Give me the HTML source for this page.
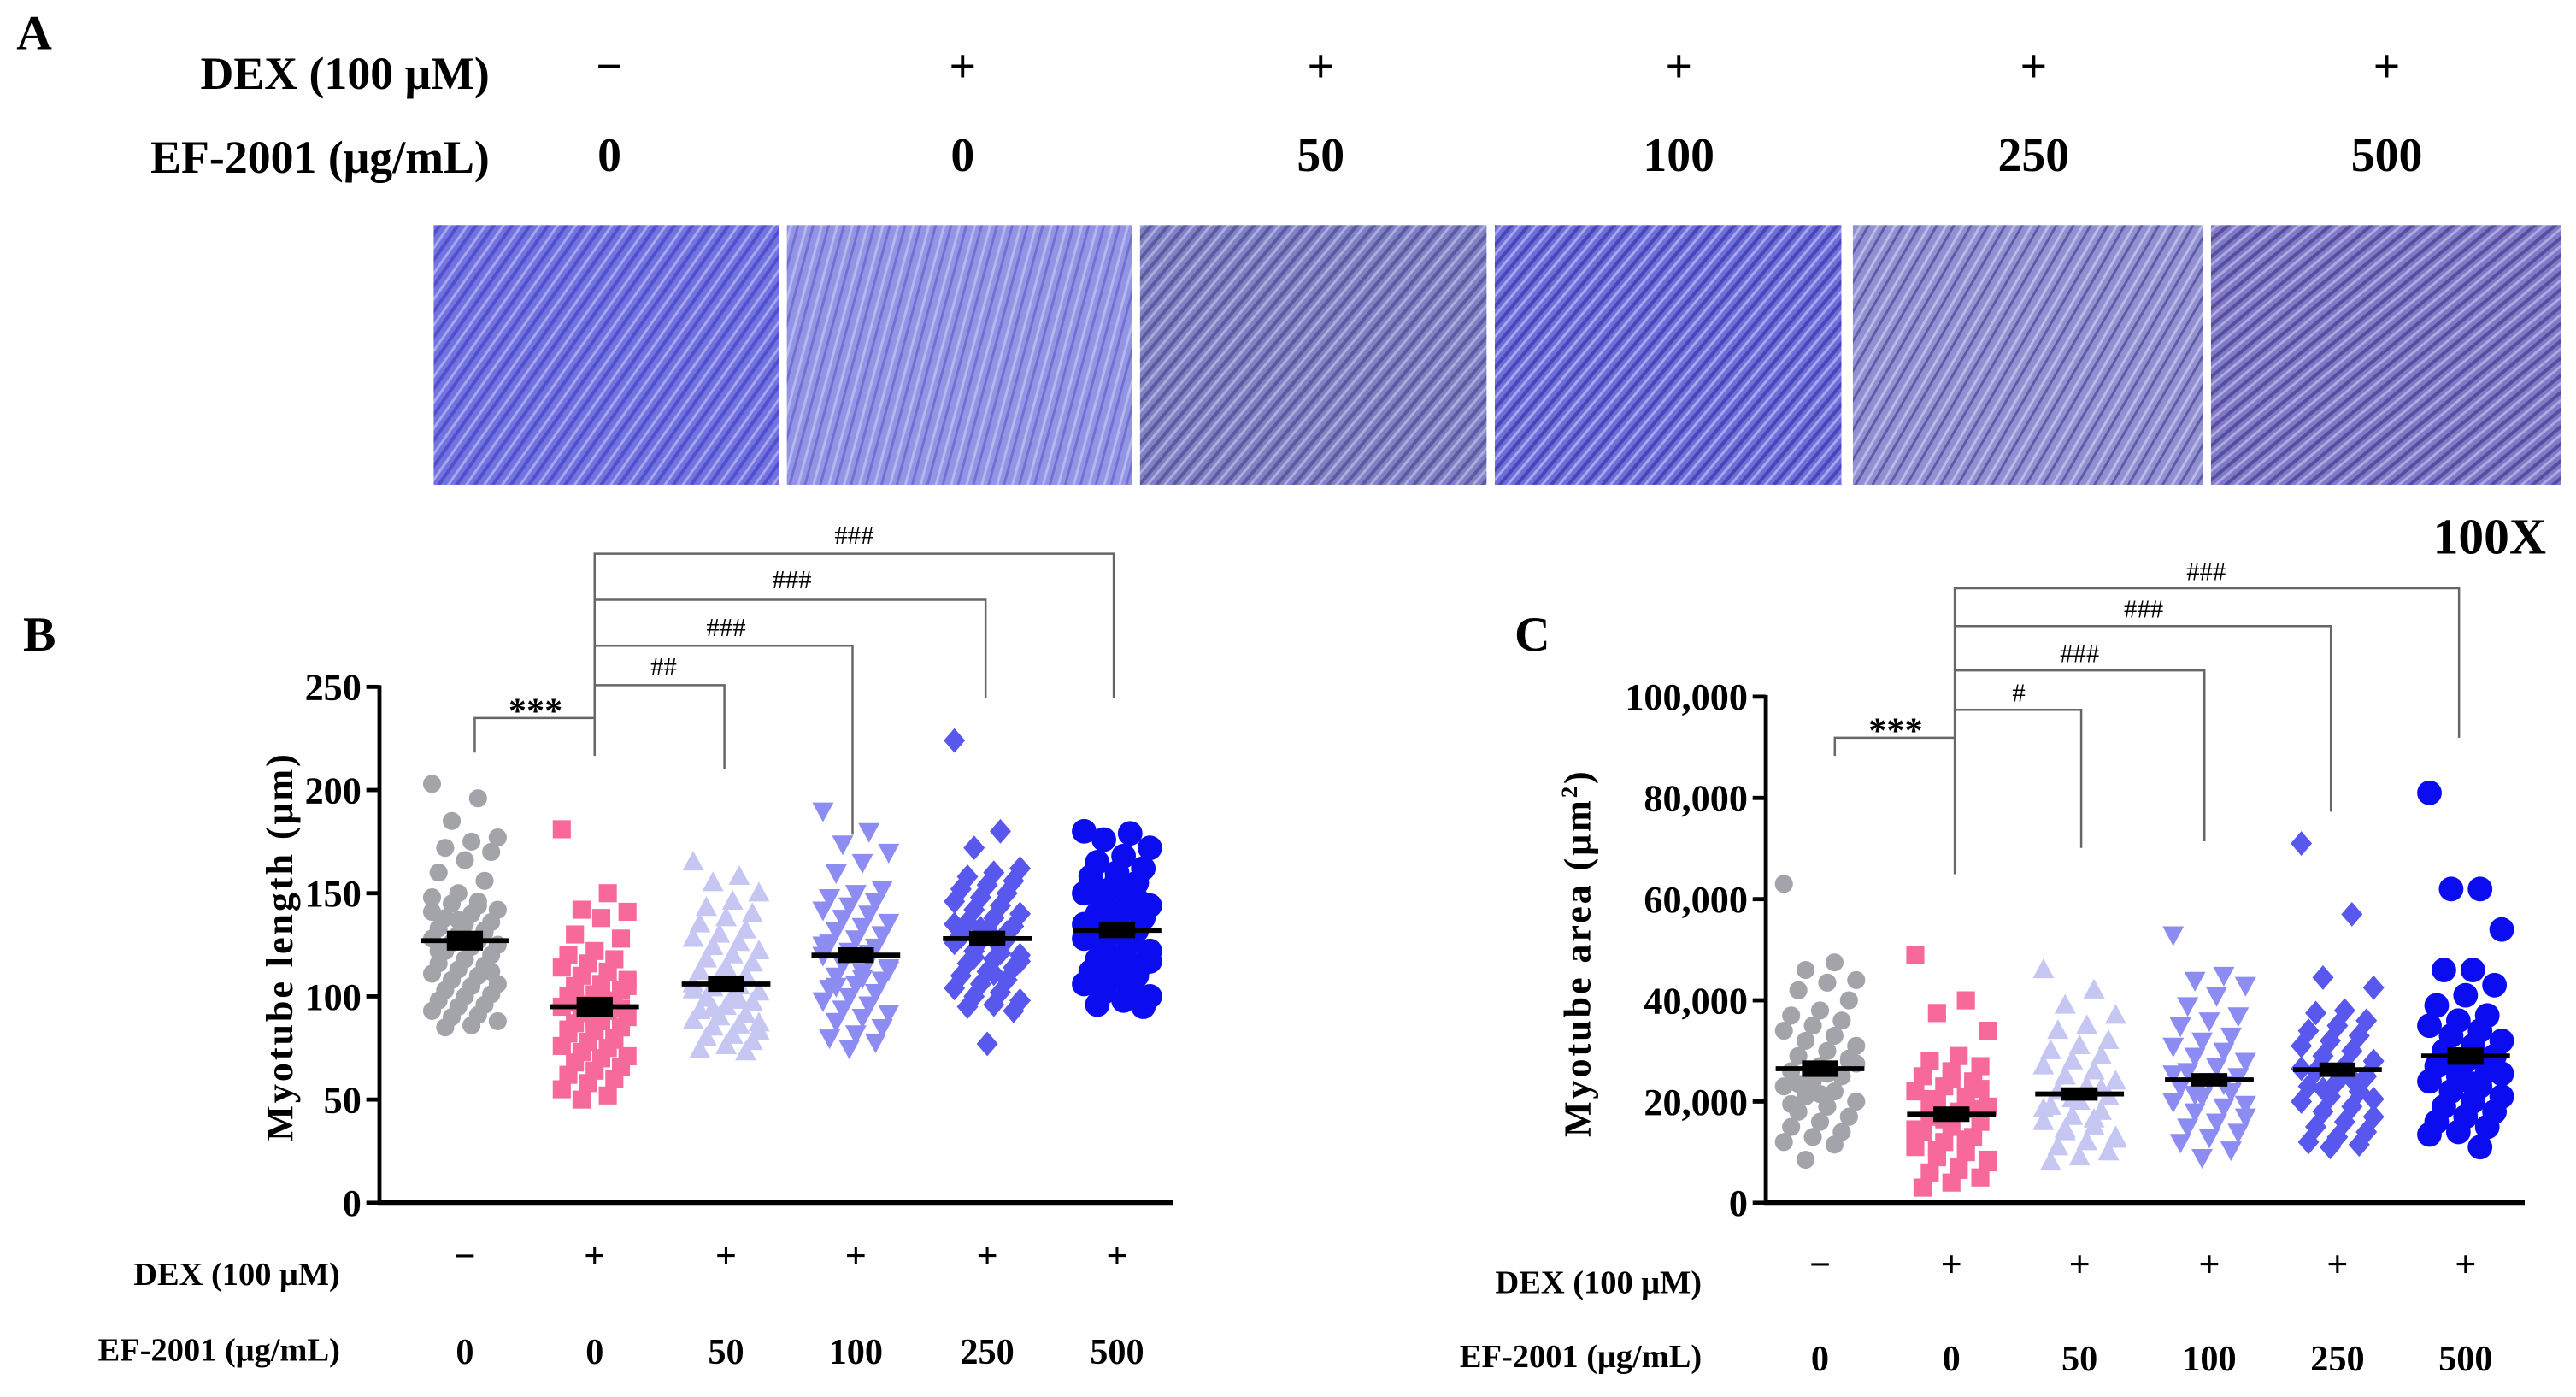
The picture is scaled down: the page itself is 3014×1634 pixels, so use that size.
<!DOCTYPE html>
<html><head><meta charset="utf-8"><style>
html,body{margin:0;padding:0;background:#fff;}
svg{display:block;font-family:"Liberation Serif",serif;font-weight:bold;}
</style></head><body>
<svg id="fig" width="3014" height="1634" viewBox="0 0 1568.2 850.2" xmlns="http://www.w3.org/2000/svg">
<defs>
<pattern id="p1" width="9" height="9" patternUnits="userSpaceOnUse" patternTransform="rotate(35)"><rect width="9" height="9" fill="#7272e0"/><rect width="2" height="9" fill="#5050cc"/><rect x="5" width="1.5" height="9" fill="#a8a8ee"/></pattern>
<pattern id="p2" width="9" height="9" patternUnits="userSpaceOnUse" patternTransform="rotate(15)"><rect width="9" height="9" fill="#9494e4"/><rect width="1.5" height="9" fill="#7070d2"/><rect x="5" width="1.5" height="9" fill="#b8b8f0"/></pattern>
<pattern id="p3" width="8" height="8" patternUnits="userSpaceOnUse" patternTransform="rotate(40)"><rect width="8" height="8" fill="#8080c4"/><rect width="2" height="8" fill="#5a5a9e"/><rect x="4" width="1.5" height="8" fill="#aeaede"/></pattern>
<pattern id="p4" width="8" height="8" patternUnits="userSpaceOnUse" patternTransform="rotate(40)"><rect width="8" height="8" fill="#6e6eda"/><rect width="2" height="8" fill="#4646b4"/><rect x="4" width="1.5" height="8" fill="#a8a8ec"/></pattern>
<pattern id="p5" width="9" height="9" patternUnits="userSpaceOnUse" patternTransform="rotate(30)"><rect width="9" height="9" fill="#9090d2"/><rect width="1.5" height="9" fill="#5c5ca2"/><rect x="5" width="1.5" height="9" fill="#bcbce6"/></pattern>
<pattern id="p6" width="8" height="8" patternUnits="userSpaceOnUse" patternTransform="rotate(50)"><rect width="8" height="8" fill="#8078c8"/><rect width="2" height="8" fill="#564e9c"/><rect x="4" width="1.5" height="8" fill="#b0aade"/></pattern>
</defs>

<text x="10" y="30" font-size="30">A</text>
<text x="298" y="54" font-size="28" text-anchor="end">DEX (100 μM)</text>
<text x="298" y="105" font-size="28" text-anchor="end">EF-2001 (μg/mL)</text>
<g id="topcols" font-size="29" text-anchor="middle"></g>
<g id="images"></g>
<text x="1550" y="337" font-size="31" text-anchor="end">100X</text>

<text x="14" y="396" font-size="30">B</text>
<text x="922" y="396" font-size="30">C</text>
<g id="chartB"></g>
<g id="chartC"></g>
</svg>
<script>
// ---- Data ----
const dexLabels = ["−","+","+","+","+","+"];
const efLabels = ["0","0","50","100","250","500"];
const meansB = [127, 95, 106, 120, 128, 132];
const semB = [4, 4, 3, 3, 3, 3];
const meansC = [26500, 17500, 21500, 24300, 26300, 29000];
const semC = [1300, 1200, 1000, 1000, 1100, 1400];
const ticksB = [0,50,100,150,200,250];
const tickLabelsB = ["0","50","100","150","200","250"];
const ticksC = [0,20000,40000,60000,80000,100000];
const tickLabelsC = ["0","20,000","40,000","60,000","80,000","100,000"];
const ptsB0 = [203,196,185,177,175,172,170,166,160,156,150,148,146,145,142,140,138,136,135,133,131,130,128,127,126,125,124,122,120,118,116,115,113,111,110,108,106,105,103,101,100,98,96,95,93,91,90,88,86,85,112,118,122,132,137,141,144];
const ptsB1 = [181,150,142,141,138,130,128,122,120,118,116,114,112,110,108,106,105,103,101,100,98,96,95,93,92,90,88,87,85,83,82,80,78,76,75,73,71,70,68,66,64,62,60,58,55,52,50,105,99,97,94,89,84,79];
const ptsB2 = [165,158,155,150,146,143,140,138,135,132,130,128,126,124,122,120,118,116,114,112,110,108,106,105,104,102,100,99,97,95,93,91,90,88,86,85,83,81,80,78,76,74,73,109,103,98,94,87];
const ptsB3 = [190,180,174,170,165,160,152,150,148,146,144,142,140,138,136,134,132,130,128,126,124,122,120,118,116,114,112,110,108,106,104,102,100,98,96,94,92,90,88,85,82,80,78,75,125,121,117,113,109,105];
const ptsB4 = [224,180,172,162,160,158,156,154,152,150,148,146,144,142,140,138,136,134,132,130,128,127,126,124,122,120,118,116,114,112,110,108,106,104,102,100,98,96,95,93,77,129,131,133,135,121,119,117,111];
const ptsB5 = [180,179,176,172,168,165,162,160,158,155,152,150,148,146,144,142,140,138,136,134,132,130,128,126,124,122,120,118,116,114,112,110,108,106,104,102,100,98,96,95,157,153,147,141,135,129,123,117,111,105,99];
const ptsC0 = [63000,47500,46000,44000,43500,42000,40000,38000,37000,36000,35000,34000,33000,32000,31000,30000,29000,28000,27000,26000,25000,24000,23000,22000,21000,20000,19000,18000,17000,16000,15000,14000,13000,12000,11500,8500,27500,25500,23500,28500,21500,19500];
const ptsC1 = [49000,40000,37500,34000,29000,28000,27000,26000,25000,24000,23000,22000,21000,20000,19000,18000,17000,16000,15000,14000,13000,12000,11000,10000,9000,8000,7000,6000,5000,4000,3000,18500,16500,14500,12500,10500,8500,6500,20500,22500,24500];
const ptsC2 = [46000,42000,39000,37000,35000,34000,32000,31000,30000,29000,28000,27000,26000,25000,24000,23000,22000,21000,20000,19000,18000,17000,16000,15000,14000,13000,12000,11000,10000,9000,8000,22500,20500,18500,16500,14500,12500];
const ptsC3 = [53000,45000,44000,43000,41000,39000,37000,36000,35000,33000,32000,31000,30000,29000,28000,27000,26000,25000,24000,23000,22000,21000,20000,19000,18000,17000,16000,15000,14000,13000,12000,10500,9000,25500,23500,21500,19500];
const ptsC4 = [71000,57000,44500,42500,38000,37500,36000,35000,34000,33000,32000,31000,30000,29000,28000,27000,26000,25000,24000,23000,22000,21000,20000,19000,18000,17000,16000,15000,14000,13000,12000,11500,11000,26500,24500,22500,20500];
const ptsC5 = [81000,62000,62000,54000,46000,46000,43000,41000,39000,37000,36000,35000,34000,33000,32000,31000,30000,29000,28000,27000,26000,25000,24000,23000,22000,21000,20000,19000,18000,17000,16000,15000,14000,13500,11000,27500,25500,23500];

const NS = "http://www.w3.org/2000/svg";
function mk(tag, attrs, parent){const e=document.createElementNS(NS,tag);for(const k in attrs)e.setAttribute(k,attrs[k]);parent.appendChild(e);return e;}

// ---- Top panel ----
const topX = [371,586,804,1022,1238,1453];
const tc = document.getElementById('topcols');
dexLabels.forEach((d,i)=>{
  const t = mk('text',{x:topX[i],y:50},tc); t.textContent=d;
  
  
  const t2 = mk('text',{x:topX[i],y:104},tc); t2.textContent=efLabels[i];
  
  
});
const imgX = [[264,474],[479,689],[694,905],[910,1121],[1128,1341],[1346,1559]];
const ig = document.getElementById('images');
imgX.forEach((r,i)=>{
  const rc = mk('rect',{x:r[0],y:137,width:r[1]-r[0],height:158,fill:'url(#p'+(i+1)+')'},ig);
  
  
});

// ---- Charts ----
const colors = ['#a3a3aa','#f6699a','#c6c6f2','#8c8cf2','#5858ee','#0c0cf0'];
const shapes = ['circle','square','tri','tridown','diamond','bigcircle'];
function marker(g, shape, x, y, c){
  let e;
  if(shape==='circle') e=mk('circle',{cx:x,cy:y,r:5.5,fill:c},g);
  else if(shape==='bigcircle') e=mk('circle',{cx:x,cy:y,r:7.5,fill:c},g);
  else if(shape==='square') e=mk('rect',{x:x-5.5,y:y-5.5,width:11,height:11,fill:c},g);
  else if(shape==='tri') e=mk('polygon',{points:`${x},${y-7} ${x+6.5},${y+5} ${x-6.5},${y+5}`,fill:c},g);
  else if(shape==='tridown') e=mk('polygon',{points:`${x},${y+7} ${x+6.5},${y-5} ${x-6.5},${y-5}`,fill:c},g);
  else e=mk('polygon',{points:`${x},${y-7.5} ${x+6.5},${y} ${x},${y+7.5} ${x-6.5},${y}`,fill:c},g);
  return e;
}
function drawChart(cfg){
  const g = document.getElementById(cfg.id);
  const ys = v => cfg.y0 - (v - 0)/(cfg.ymax) * (cfg.y0 - cfg.yTop);
  cfg.pts.forEach((arr,gi)=>{
    const cx = cfg.cats[gi];
    arr.forEach((v,i)=>{
      const off = (((i*7)%11) - 5)/5 * cfg.jit;
      const m = marker(g, shapes[gi], cx+off, ys(v), colors[gi]);
      
      
    });
    const my = ys(cfg.means[gi]);
    const sb = mk('rect',{x:cx-11,y:ys(cfg.means[gi]+cfg.sem[gi])-1,width:22,height:ys(cfg.means[gi]-cfg.sem[gi])-ys(cfg.means[gi]+cfg.sem[gi])+2,fill:'#000'},g);
    
    
    const ml = mk('line',{x1:cx-27,x2:cx+27,y1:my,y2:my,stroke:'#000','stroke-width':3},g);
    
    
  });
  const ya = mk('line',{x1:cfg.ax,x2:cfg.ax,y1:cfg.yTop-1,y2:cfg.y0+1.5,stroke:'#000','stroke-width':2.5},g);
  
  
  const xa = mk('line',{x1:cfg.ax-1,x2:cfg.right,y1:cfg.y0,y2:cfg.y0,stroke:'#000','stroke-width':3.5},g);
  
  
  cfg.ticks.forEach((t,i)=>{
    const y = ys(t);
    mk('line',{x1:cfg.ax-8,x2:cfg.ax,y1:y,y2:y,stroke:'#000','stroke-width':2.5},g);
    const tx = mk('text',{x:cfg.ax-11,y:y+8,'font-size':23,'text-anchor':'end'},g);
    tx.textContent = cfg.tickLabels[i];
    
    
  });
  const tt = mk('text',{x:0,y:0,'font-size':23,'text-anchor':'middle',transform:`translate(${cfg.titleX},${cfg.titleY}) rotate(-90)`,'letter-spacing':'1.5'},g);
  tt.innerHTML = cfg.title;
  
  
  const dl = mk('text',{x:cfg.rowLabelX,y:cfg.dexY+10,'font-size':20,'text-anchor':'end'},g);
  dl.textContent='DEX (100 μM)';
  
  
  const el = mk('text',{x:cfg.rowLabelX,y:cfg.efY,'font-size':20,'text-anchor':'end'},g);
  el.textContent='EF-2001 (μg/mL)';
  
  
  cfg.cats.forEach((cx,i)=>{
    const a = mk('text',{x:cx,y:cfg.dexY,'font-size':23,'text-anchor':'middle'},g);
    a.textContent = dexLabels[i];
    
    
    const b = mk('text',{x:cx,y:cfg.efY+2,'font-size':22,'text-anchor':'middle'},g);
    b.textContent = efLabels[i];
    
    
  });
  cfg.brackets.forEach(br=>{
    const p = mk('polyline',{points:br.pts,fill:'none',stroke:'#666','stroke-width':1.3},g);
    
    
    const t = mk('text',{x:br.tx,y:br.ty,'font-size':br.fs||16,'text-anchor':'middle','font-weight':br.fs?'bold':'normal'},g);
    t.textContent = br.label;
    
    
  });
}
drawChart({id:'chartB', ax:231, y0:732, yTop:418, ymax:250, right:714, jit:20,
  cats:[283,362,442,521,601,680], pts:[ptsB0,ptsB1,ptsB2,ptsB3,ptsB4,ptsB5], means:meansB, sem:semB,
  ticks:ticksB, tickLabels:tickLabelsB, title:'Myotube length (μm)', titleX:178, titleY:576,
  rowLabelX:207, dexY:772, efY:828,
  brackets:[
    {pts:'289,458 289,437 362,437', label:'***', tx:326, ty:440, fs:22},
    {pts:'362,460 362,337 678,337 678,425', label:'###', tx:520, ty:331},
    {pts:'362,365 600,365 600,425', label:'###', tx:482, ty:358},
    {pts:'362,393 519,393 519,508', label:'###', tx:442, ty:387},
    {pts:'362,417 441,417 441,468', label:'##', tx:404, ty:411}
  ]});
drawChart({id:'chartC', ax:1075, y0:732, yTop:424, ymax:100000, right:1537, jit:22,
  cats:[1108,1188,1266,1345,1423,1501], pts:[ptsC0,ptsC1,ptsC2,ptsC3,ptsC4,ptsC5], means:meansC, sem:semC,
  ticks:ticksC, tickLabels:tickLabelsC, title:'Myotube area (μm<tspan font-size="14" dy="-8">2</tspan><tspan dy="8">)</tspan>', titleX:968, titleY:580,
  rowLabelX:1036, dexY:777, efY:832,
  brackets:[
    {pts:'1117,460 1117,449 1190,449', label:'***', tx:1154, ty:452, fs:22},
    {pts:'1190,532 1190,358 1497,358 1497,449', label:'###', tx:1343, ty:353},
    {pts:'1190,381 1419,381 1419,494', label:'###', tx:1305, ty:376},
    {pts:'1190,408 1342,408 1342,512', label:'###', tx:1266, ty:403},
    {pts:'1190,432 1267,432 1267,516', label:'#', tx:1229, ty:427}
  ]});
</script>
</body></html>
